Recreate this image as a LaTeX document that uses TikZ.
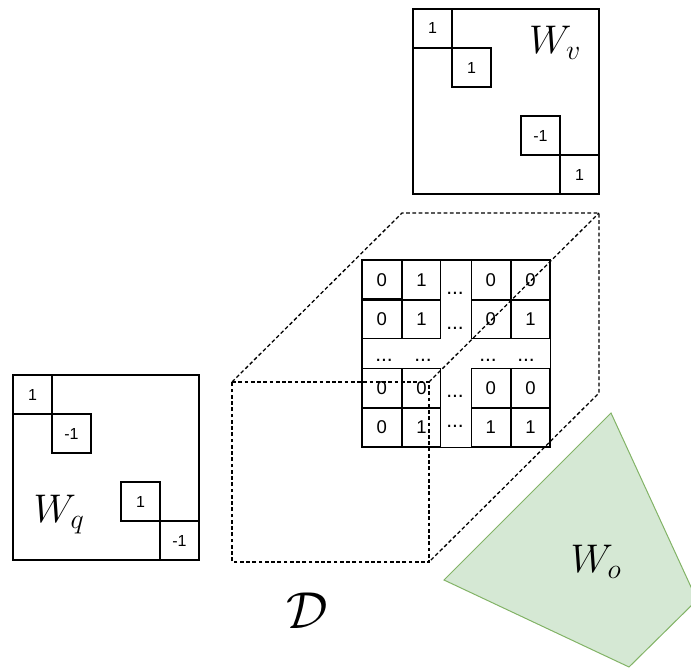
\RequirePackage{fix-cm}
\documentclass[tikz,border=0pt]{standalone}
\usepackage{fontspec}
\newfontfamily\cellfont{Liberation Sans}
\usetikzlibrary{matrix,positioning}

\definecolor{wofill}{HTML}{D5E8D4}
\definecolor{woline}{HTML}{82B366}

\tikzset{
  wbox/.style={draw, line width=1.1pt, minimum width=186pt,
    minimum height=185pt, inner sep=0pt, outer sep=0pt},
  wcell/.style={draw, line width=1.1pt, minimum size=39pt,
    inner sep=0pt, outer sep=0pt,
    font=\cellfont\fontsize{16}{19}\selectfont},
  dcell/.style={draw, line width=1.1pt, minimum size=38.5pt,
    inner sep=0pt, outer sep=0pt,
    font=\cellfont\fontsize{18.5}{22}\selectfont},
  dots/.style={anchor=base, inner sep=0pt,
    font=\cellfont\fontsize{21}{24}\selectfont},
  hidden/.style={line width=1.3pt, dash pattern=on 3.75pt off 2.5pt},
  wlabel/.style={inner sep=0pt, font=\fontsize{40}{48}\selectfont}
}

\begin{document}
\begin{tikzpicture}[x=1pt, y=-1pt]
  \useasboundingbox (0,0) rectangle (691,668);

  % W_o
  \begin{scope}
    \clip (0,0) rectangle (691,668);
    \fill[wofill, draw=woline, line width=1pt]
      (611,413) -- (697,600) -- (629,667) -- (444,580) -- cycle;
  \end{scope}
  \node[wlabel] (wol) at (596,562) {$W_o$};

  % W_v
  \node[wbox, anchor=north west] (wv) at (413,9) {};
  \node[wcell, anchor=north west] (v1) at (wv.north west) {1};
  \node[wcell, below right=0pt of v1] (v2) {1};
  \node[wcell, anchor=south east] (v4) at (wv.south east) {1};
  \node[wcell, above left=0pt of v4] (v3) {-1};
  \node[wlabel] (wvl) at (555,43) {$W_v$};

  % W_q
  \node[wbox, anchor=north west] (wq) at (13,375) {};
  \node[wcell, anchor=north west] (q1) at (wq.north west) {1};
  \node[wcell, below right=0pt of q1] (q2) {-1};
  \node[wcell, anchor=south east] (q4) at (wq.south east) {-1};
  \node[wcell, above left=0pt of q4] (q3) {1};
  \node[wlabel] (wql) at (59,515) {$W_q$};

  % D
  \coordinate (f1) at (232,382);
  \coordinate (f2) at (429,382);
  \coordinate (f3) at (429,562);
  \coordinate (f4) at (232,562);
  \coordinate (b1) at (402,213);
  \coordinate (b2) at (599,213);
  \coordinate (b3) at (599,393);
  \draw[hidden] (f1) -- (f2) -- (f3) -- (f4) -- cycle;
  \draw[hidden] (f1) -- (b1) -- (b2) -- (b3) -- (f3);
  \draw[hidden] (f2) -- (b2);

  \matrix (tl) [matrix of nodes, anchor=north west, inner sep=0pt,
    outer sep=0pt, nodes={dcell}] at (362,260) {
    0 & 1 \\
    0 & 1 \\
  };
  \matrix (tr) [matrix of nodes, anchor=north west, inner sep=0pt,
    outer sep=0pt, nodes={dcell}] at (471,260) {
    0 & 0 \\
    0 & 1 \\
  };
  \matrix (bl) [matrix of nodes, anchor=north west, inner sep=0pt,
    outer sep=0pt, nodes={dcell}] at (362,368) {
    0 & 0 \\
    0 & 1 \\
  };
  \matrix (br) [matrix of nodes, anchor=north west, inner sep=0pt,
    outer sep=0pt, nodes={dcell}] at (471,368) {
    0 & 0 \\
    1 & 1 \\
  };
  \draw[line width=1.1pt] (tl.north west) rectangle (br.south east);

  \node[dots] (d1) at (455,295) {...};
  \node[dots] (d2) at (455,330) {...};
  \node[dots] (d3) at (384,362) {...};
  \node[dots] (d4) at (423,362) {...};
  \node[dots] (d5) at (488,362) {...};
  \node[dots] (d6) at (526,362) {...};
  \node[dots] (d7) at (455,397) {...};
  \node[dots] (d8) at (455,427) {...};

  \node[inner sep=0pt, font=\fontsize{52}{60}\selectfont] (dl)
    at (307,611) {$\mathcal{D}$};
\end{tikzpicture}
\end{document}
